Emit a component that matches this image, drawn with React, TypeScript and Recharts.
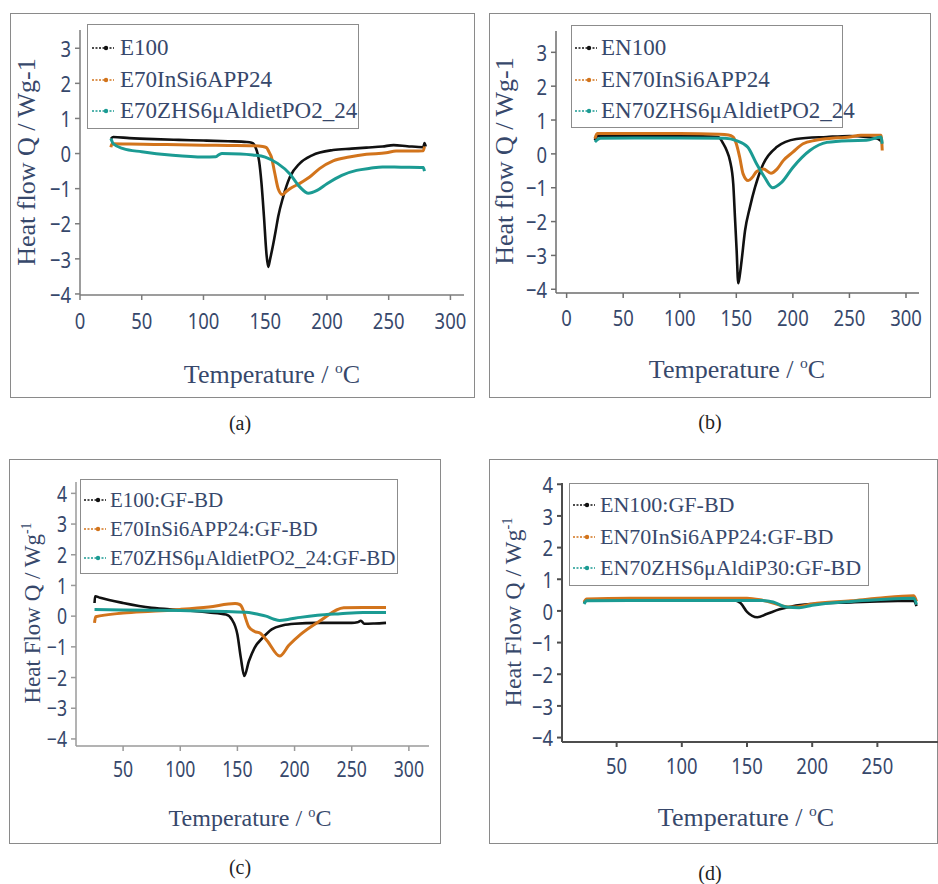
import { LineChart, Line, XAxis, YAxis } from 'recharts'

const SERIF = '"Liberation Serif", "Times New Roman", serif'
const SANS = '"Noto Sans", "Open Sans", sans-serif'
const INK = '#37486b'
const BLACK = '#111111'
const ORANGE = '#d2741c'
const TEAL = '#1b9b93'

// ---- (a) neat resins E ----
const aNames = ['E100', 'E70InSi6APP24', 'E70ZHS6μAldietPO2_24']
const aE100T = [25, 27, 40, 60, 80, 100, 120, 135, 139, 141, 143, 145, 147, 149, 151, 152.4, 154, 156.4, 158.5, 160.5, 164.5, 170, 178, 188, 205, 220, 232, 245, 254, 265, 278, 279, 280]
const aE100Q = [0.42, 0.47, 0.44, 0.41, 0.39, 0.37, 0.35, 0.33, 0.31, 0.26, 0.1, -0.2, -0.85, -1.8, -2.85, -3.23, -3.0, -2.6, -2.2, -1.8, -1.24, -0.67, -0.28, -0.05, 0.1, 0.14, 0.17, 0.2, 0.24, 0.21, 0.18, 0.3, 0.2]
const aInSiT = [25, 26, 40, 60, 80, 100, 120, 140, 148, 151, 153, 155, 157.8, 160.5, 164, 167, 170, 178, 186, 194, 205, 218, 232, 248, 256, 270, 278, 279]
const aInSiQ = [0.18, 0.28, 0.27, 0.26, 0.25, 0.24, 0.23, 0.22, 0.2, 0.17, 0.05, -0.1, -0.57, -1.0, -1.17, -1.08, -1.0, -0.85, -0.67, -0.43, -0.21, -0.1, -0.02, 0.02, 0.07, 0.07, 0.08, 0.2]
const aZhsT = [25, 27, 35, 50, 75, 100, 110, 113, 115, 130, 140, 150, 160, 170, 178, 185, 192, 200, 212, 224, 235, 245, 260, 278, 279]
const aZhsQ = [0.43, 0.28, 0.14, 0.05, -0.05, -0.1, -0.09, -0.02, 0.0, -0.01, -0.04, -0.1, -0.28, -0.58, -0.95, -1.13, -1.05, -0.86, -0.62, -0.48, -0.42, -0.38, -0.39, -0.4, -0.5]

// ---- (b) neat resins EN ----
const bNames = ['EN100', 'EN70InSi6APP24', 'EN70ZHS6μAldietPO2_24']
const bEN100T = [25, 27, 40, 80, 120, 134, 138.5, 141.5, 144.4, 147.3, 148.8, 150.3, 151.7, 153, 154.7, 157.7, 162, 166.5, 173.8, 185.7, 203, 230, 250, 265, 275, 279]
const bEN100Q = [0.4, 0.52, 0.54, 0.53, 0.52, 0.5, 0.3, 0.1, -0.2, -0.89, -1.87, -2.86, -3.82, -3.6, -3.15, -2.27, -1.58, -0.99, -0.3, 0.2, 0.44, 0.5, 0.53, 0.5, 0.45, 0.35]
const bInSiT = [25, 27, 60, 100, 135, 143, 147, 150, 153, 156, 160.5, 164, 168, 174, 180.6, 186, 191.5, 200, 209, 220, 230, 250, 260, 270, 278, 279]
const bInSiQ = [0.45, 0.6, 0.6, 0.6, 0.58, 0.56, 0.5, 0.3, -0.1, -0.59, -0.79, -0.7, -0.52, -0.45, -0.57, -0.45, -0.2, 0.05, 0.3, 0.4, 0.45, 0.5, 0.55, 0.55, 0.55, 0.1]
const bZhsT = [25, 30, 60, 100, 140, 150, 160, 168, 175, 182, 190, 200, 215, 230, 250, 265, 278, 279]
const bZhsQ = [0.35, 0.46, 0.47, 0.47, 0.46, 0.39, 0.2, -0.3, -0.69, -1.0, -0.84, -0.4, 0.1, 0.34, 0.39, 0.4, 0.5, 0.3]

// ---- (c) E composites ----
const cNames = ['E100:GF-BD', 'E70InSi6APP24:GF-BD', 'E70ZHS6μAldietPO2_24:GF-BD']
const cE100T = [25, 25.5, 30, 50, 75, 100, 125, 140, 145, 150, 153, 156, 160, 165, 172, 180, 190, 200, 220, 250, 255, 258, 261, 270, 280]
const cE100Q = [0.43, 0.65, 0.6, 0.43, 0.27, 0.2, 0.12, 0.05, -0.1, -0.6, -1.36, -1.95, -1.47, -1.03, -0.71, -0.43, -0.3, -0.25, -0.22, -0.22, -0.2, -0.15, -0.25, -0.24, -0.22]
const cInSiT = [25, 26, 50, 75, 100, 125, 148, 152, 155, 157, 160, 165, 170, 176, 187, 195, 205, 222, 243, 260, 280]
const cInSiQ = [-0.22, -0.02, 0.1, 0.16, 0.22, 0.3, 0.41, 0.38, 0.2, -0.05, -0.35, -0.5, -0.56, -0.8, -1.3, -0.95, -0.6, -0.16, 0.27, 0.28, 0.28]
const cZhsT = [25, 50, 100, 140, 160, 168, 175, 182, 187, 195, 205, 220, 240, 260, 280]
const cZhsQ = [0.22, 0.2, 0.18, 0.15, 0.12, 0.06, 0.0, -0.1, -0.14, -0.1, -0.04, 0.03, 0.08, 0.12, 0.12]

// ---- (d) EN composites ----
const dNames = ['EN100:GF-BD', 'EN70InSi6APP24:GF-BD', 'EN70ZHS6μAldiP30:GF-BD']
const dEN100T = [25, 27, 60, 100, 140, 145, 150, 158, 165, 175, 185, 200, 230, 250, 278, 280]
const dEN100Q = [0.25, 0.35, 0.35, 0.35, 0.33, 0.25, -0.03, -0.2, -0.1, 0.05, 0.15, 0.22, 0.27, 0.3, 0.32, 0.15]
const dInSiT = [25, 27, 60, 100, 150, 160, 170, 178, 185, 200, 230, 250, 278, 280]
const dInSiQ = [0.28, 0.38, 0.4, 0.4, 0.4, 0.35, 0.25, 0.15, 0.12, 0.22, 0.32, 0.4, 0.48, 0.3]
const dZhsT = [25, 27, 60, 100, 150, 160, 170, 180, 190, 200, 230, 250, 278, 280]
const dZhsQ = [0.22, 0.32, 0.33, 0.33, 0.33, 0.33, 0.28, 0.12, 0.1, 0.18, 0.3, 0.35, 0.4, 0.2]

const xTicksAB = [0, 50, 100, 150, 200, 250, 300]
const xTicksC = [50, 100, 150, 200, 250, 300]
const xTicksD = [50, 100, 150, 200, 250]
const yTicksAB = [-4, -3, -2, -1, 0, 1, 2, 3]
const yTicksCD = [-4, -3, -2, -1, 0, 1, 2, 3, 4]

const COLORS = [BLACK, ORANGE, TEAL]

const pts = (t: number[], q: number[]) => t.map((x, i) => ({ t: x, q: q[i] }))
const minus = (v: number) => String(v).replace('-', '\u2212')

interface Panel {
  key: string
  caption: string
  frame: { left: number; top: number; width: number; height: number }
  margin: { top: number; right: number; bottom: number; left: number }
  xDomain: [number, number]
  yDomain: [number, number]
  xTicks: number[]
  yTicks: number[]
  tickFont: number
  tickGap: number
  axisColor: string
  axisWidth: number
  series: { name: string; data: { t: number; q: number }[] }[]
  legend: { left: number; top: number; width: number; height: number; rows: number[]; symLeft: number; textLeft: number; font: number }
  yTitle: { x: number; y: number; font: number; sup: boolean; flow: string }
  xTitle: { x: number; y: number; font: number }
  cap: { x: number; y: number }
}

const panels: Panel[] = [
  {
    key: 'a', caption: '(a)',
    frame: { left: 10, top: 13, width: 465, height: 385 },
    margin: { top: 17, right: 11, bottom: 73, left: 20 },
    xDomain: [0, 311], yDomain: [-4.03, 3.52], xTicks: xTicksAB, yTicks: yTicksAB,
    tickFont: 22.5, tickGap: 18, axisColor: '#7d7d7d', axisWidth: 1.5,
    series: [
      { name: aNames[0], data: pts(aE100T, aE100Q) },
      { name: aNames[1], data: pts(aInSiT, aInSiQ) },
      { name: aNames[2], data: pts(aZhsT, aZhsQ) },
    ],
    legend: { left: 87, top: 24, width: 272, height: 105, rows: [23, 55, 86], symLeft: 4, textLeft: 32, font: 23 },
    yTitle: { x: 27, y: 162, font: 26, sup: false, flow: 'flow' },
    xTitle: { x: 272, y: 375, font: 26 },
    cap: { x: 240, y: 423 },
  },
  {
    key: 'b', caption: '(b)',
    frame: { left: 489, top: 13, width: 442, height: 385 },
    margin: { top: 18, right: 12, bottom: 75, left: 17 },
    xDomain: [-9.4, 311.5], yDomain: [-4.11, 3.63], xTicks: xTicksAB, yTicks: yTicksAB,
    tickFont: 22.5, tickGap: 17, axisColor: '#6d6d6d', axisWidth: 1.5,
    series: [
      { name: bNames[0], data: pts(bEN100T, bEN100Q) },
      { name: bNames[1], data: pts(bInSiT, bInSiQ) },
      { name: bNames[2], data: pts(bZhsT, bZhsQ) },
    ],
    legend: { left: 571, top: 25, width: 272, height: 103, rows: [22, 54, 85], symLeft: 3, textLeft: 29, font: 23 },
    yTitle: { x: 505, y: 161, font: 26, sup: false, flow: 'flow' },
    xTitle: { x: 737, y: 370, font: 26 },
    cap: { x: 710, y: 422 },
  },
  {
    key: 'c', caption: '(c)',
    frame: { left: 9, top: 459, width: 432, height: 385 },
    margin: { top: 23, right: 12, bottom: 68, left: 17 },
    xDomain: [8.8, 317.6], yDomain: [-4.23, 4.37], xTicks: xTicksC, yTicks: yTicksCD,
    tickFont: 21.5, tickGap: 16, axisColor: '#9a9a9a', axisWidth: 1.5,
    series: [
      { name: cNames[0], data: pts(cE100T, cE100Q) },
      { name: cNames[1], data: pts(cInSiT, cInSiQ) },
      { name: cNames[2], data: pts(cZhsT, cZhsQ) },
    ],
    legend: { left: 80, top: 479, width: 318, height: 95, rows: [20, 49, 78], symLeft: 3, textLeft: 29, font: 21 },
    yTitle: { x: 32, y: 613, font: 23, sup: true, flow: 'Flow' },
    xTitle: { x: 250, y: 818, font: 24 },
    cap: { x: 240, y: 867 },
  },
  {
    key: 'd', caption: '(d)',
    frame: { left: 489, top: 459, width: 449, height: 385 },
    margin: { top: 24, right: 0, bottom: 72, left: 23 },
    xDomain: [8.1, 296.5], yDomain: [-4.14, 4.04], xTicks: xTicksD, yTicks: yTicksCD,
    tickFont: 22.5, tickGap: 16, axisColor: '#4d4d4d', axisWidth: 2,
    series: [
      { name: dNames[0], data: pts(dEN100T, dEN100Q) },
      { name: dNames[1], data: pts(dInSiT, dInSiQ) },
      { name: dNames[2], data: pts(dZhsT, dZhsQ) },
    ],
    legend: { left: 569, top: 483, width: 300, height: 103, rows: [21, 53, 84], symLeft: 3, textLeft: 30, font: 22 },
    yTitle: { x: 513, y: 612, font: 24, sup: true, flow: 'Flow' },
    xTitle: { x: 746, y: 818, font: 26 },
    cap: { x: 710, y: 873 },
  },
]

// tick labels in the figure are a narrow sans face: squeeze horizontally
function XTick({ x, y, payload, font, gap }: any) {
  return (
    <g transform={`translate(${x},${y + gap})`}>
      <text transform="scale(0.82,1)" textAnchor="middle" dominantBaseline="central"
        fill={INK} fontSize={font} fontFamily={SANS}>{payload.value}</text>
    </g>
  )
}

function YTick({ x, y, payload, font }: any) {
  return (
    <g transform={`translate(${x - 2},${y})`}>
      <text transform="scale(0.82,1)" textAnchor="end" dominantBaseline="central"
        fill={INK} fontSize={font} fontFamily={SANS}>{minus(payload.value)}</text>
    </g>
  )
}

function LegendBox({ p }: { p: Panel }) {
  const lg = p.legend
  return (
    <div style={{
      position: 'absolute', left: lg.left, top: lg.top, width: lg.width, height: lg.height,
      border: '1.5px solid #8c8c8c', boxSizing: 'border-box', background: '#fff',
    }}>
      {p.series.map((s, i) => (
        <div key={s.name} style={{ position: 'absolute', left: 0, top: lg.rows[i] - 14, height: 28, width: '100%' }}>
          <svg width={22} height={8} style={{ position: 'absolute', left: lg.symLeft, top: 10 }}>
            <line x1={0} y1={4} x2={22} y2={4} stroke={COLORS[i]} strokeWidth={1.6} strokeDasharray="2 1.5" />
            <circle cx={14} cy={4} r={2.2} fill={COLORS[i]} />
          </svg>
          <span style={{
            position: 'absolute', left: lg.textLeft, top: 0, lineHeight: '28px',
            fontFamily: SERIF, fontSize: lg.font, color: INK, whiteSpace: 'nowrap',
          }}>{s.name}</span>
        </div>
      ))}
    </div>
  )
}

function PanelView({ p }: { p: Panel }) {
  const f = p.frame
  return (
    <>
      <div style={{
        position: 'absolute', left: f.left, top: f.top, width: f.width, height: f.height,
        border: '1.5px solid #8a8a8a', boxSizing: 'border-box',
      }} />
      <div style={{ position: 'absolute', left: f.left, top: f.top }}>
        <LineChart width={f.width} height={f.height} margin={p.margin}>
          <XAxis
            type="number" dataKey="t" domain={p.xDomain} ticks={p.xTicks} allowDataOverflow
            height={30} tickSize={5} interval={0}
            tick={<XTick font={p.tickFont} gap={p.tickGap} />}
            stroke={p.axisColor} strokeWidth={p.axisWidth}
          />
          <YAxis
            type="number" dataKey="q" domain={p.yDomain} ticks={p.yTicks} allowDataOverflow
            width={50} tickSize={5} interval={0}
            tick={<YTick font={p.tickFont} />}
            stroke={p.axisColor} strokeWidth={p.axisWidth}
          />
          {p.series.map((s, i) => (
            <Line
              key={s.name} data={s.data} dataKey="q" name={s.name} type="monotone"
              stroke={COLORS[i]} strokeWidth={i === 0 ? 2.6 : 3} dot={false} activeDot={false}
              isAnimationActive={false}
            />
          ))}
        </LineChart>
      </div>
      <LegendBox p={p} />
      <div style={{
        position: 'absolute', left: p.yTitle.x, top: p.yTitle.y, transform: 'translate(-50%, -50%) rotate(-90deg)',
        fontFamily: SERIF, fontSize: p.yTitle.font, color: INK, whiteSpace: 'nowrap', lineHeight: 1,
      }}>
        {p.yTitle.sup
          ? <>Heat {p.yTitle.flow} Q / Wg<sup style={{ fontSize: '0.6em', lineHeight: 0 }}>-1</sup></>
          : <>Heat {p.yTitle.flow} Q / Wg-1</>}
      </div>
      <div style={{
        position: 'absolute', left: p.xTitle.x, top: p.xTitle.y, transform: 'translate(-50%, -50%)',
        fontFamily: SERIF, fontSize: p.xTitle.font, color: INK, whiteSpace: 'nowrap', lineHeight: 1,
      }}>
        Temperature / <sup style={{ fontSize: '0.6em', lineHeight: 0 }}>o</sup>C
      </div>
      <div style={{
        position: 'absolute', left: p.cap.x, top: p.cap.y, transform: 'translate(-50%, -50%)',
        fontFamily: SERIF, fontSize: 20, color: '#222', lineHeight: 1,
      }}>{p.caption}</div>
    </>
  )
}

export default function App() {
  return (
    <div style={{ position: 'absolute', left: 0, top: 0, width: 938, height: 884, background: '#fff', overflow: 'hidden' }}>
      {panels.map(p => <PanelView key={p.key} p={p} />)}
    </div>
  )
}
